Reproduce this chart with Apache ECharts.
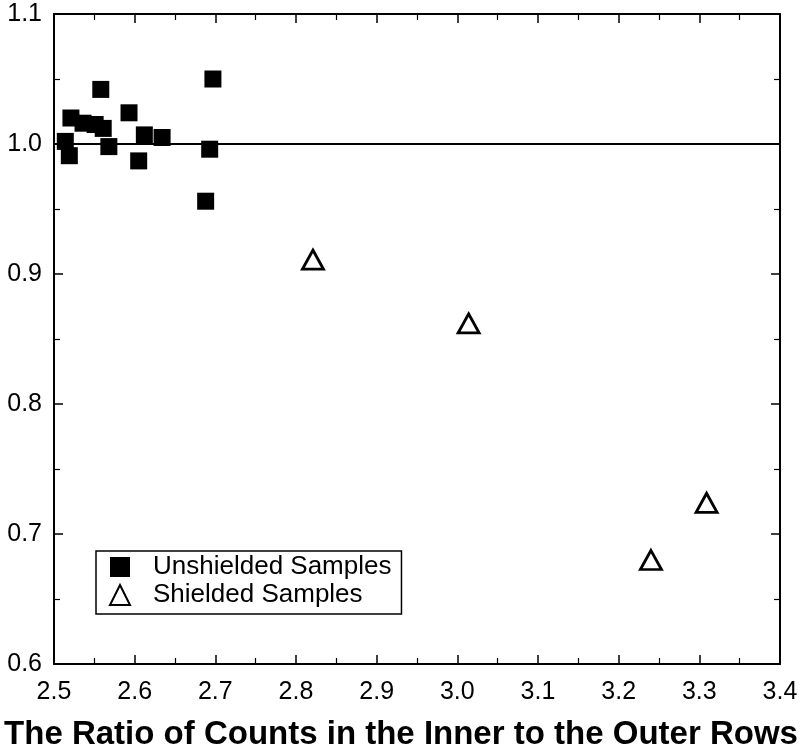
<!DOCTYPE html>
<html>
<head>
<meta charset="utf-8">
<script src="https://cdn.jsdelivr.net/npm/echarts@6/dist/echarts.min.js"></script>
<style>
  html, body { margin: 0; padding: 0; background: #fff; }
  #main { width: 802px; height: 753px; }
</style>
</head>
<body>
<div id="main"></div>
<script>
// ratio of counts (x) vs relative value (y)
const unshieldedX = [2.697, 2.558, 2.521, 2.536, 2.551, 2.561, 2.593, 2.612, 2.634, 2.514, 2.519, 2.568, 2.605, 2.693, 2.688]
const unshieldedY = [1.050, 1.042, 1.020, 1.016, 1.015, 1.012, 1.024, 1.007, 1.005, 1.002, 0.991, 0.998, 0.987, 0.996, 0.956]
const shieldedX = [2.821, 3.014, 3.309, 3.240]
const shieldedY = [0.911, 0.862, 0.724, 0.680]
const refLine = 1.0
const xTicks = [2.5, 3.4, 0.1]   // min, max, step
const yTicks = [0.6, 1.1, 0.1]

const seriesNames = ['Unshielded Samples', 'Shielded Samples']
const titleText = 'The Ratio of Counts in the Inner to the Outer Rows'

const font = 'Liberation Sans, Arial, sans-serif'

let unshielded = unshieldedX.map((x, i) => [x, unshieldedY[i]])
let shielded = shieldedX.map((x, i) => [x, shieldedY[i]])

const axisLine = {show: true, onZero: false, lineStyle: {color: '#000', width: 2}}
const tick = {show: true, inside: true, length: 9, lineStyle: {color: '#000', width: 1.5}}
const minor = {show: true, splitNumber: 2, length: 6, lineStyle: {color: '#000', width: 1.2}}

function xAx(pos, labels) {
  return {
    type: 'value', position: pos,
    min: xTicks[0], max: xTicks[1], interval: xTicks[2],
    axisLine: axisLine, axisTick: tick, minorTick: minor,
    splitLine: {show: false},
    axisLabel: {
      show: labels, margin: 16, color: '#000', fontSize: 25, fontFamily: font,
      formatter: v => v.toFixed(1)
    }
  }
}
function yAx(pos, labels) {
  return {
    type: 'value', position: pos,
    min: yTicks[0], max: yTicks[1], interval: yTicks[2],
    axisLine: axisLine, axisTick: tick, minorTick: minor,
    splitLine: {show: false},
    axisLabel: {
      show: labels, margin: 12, color: '#000', fontSize: 25, fontFamily: font,
      formatter: v => v.toFixed(1)
    }
  }
}

const option = {
  backgroundColor: '#fff',
  animation: false,
  grid: {left: 54, right: 22, top: 14, bottom: 89, containLabel: false},
  title: {
    text: titleText,
    left: 'center', top: 713,
    textStyle: {fontSize: 33, fontWeight: 'bold', color: '#000', fontFamily: font}
  },
  legend: {
    orient: 'vertical',
    left: 96, top: 551,
    padding: [3, 10, 6, 13],
    borderColor: '#000', borderWidth: 1.5,
    itemWidth: 20, itemHeight: 20, itemGap: 2,
    textStyle: {fontSize: 26, color: '#000', fontFamily: font, lineHeight: 26, padding: [0, 0, 0, 18]},
    data: seriesNames
  },
  xAxis: [xAx('bottom', true), xAx('top', false)],
  yAxis: [yAx('left', true), yAx('right', false)],
  series: [
    {
      name: seriesNames[0],
      type: 'scatter',
      symbol: 'rect',
      symbolSize: 17,
      itemStyle: {color: '#000', opacity: 1},
      data: unshielded,
      markLine: {
        silent: true,
        symbol: 'none',
        label: {show: false},
        lineStyle: {color: '#000', width: 1.8, type: 'solid'},
        data: [{yAxis: refLine}]
      },
      z: 3
    },
    {
      name: seriesNames[1],
      type: 'scatter',
      symbol: 'triangle',
      symbolSize: [21, 19],
      itemStyle: {color: '#fff', borderColor: '#000', borderWidth: 2.8, opacity: 1},
      data: shielded,
      z: 3
    }
  ]
}

let myChart = echarts.init(document.getElementById('main'))
myChart.setOption(option)
</script>
</body>
</html>
